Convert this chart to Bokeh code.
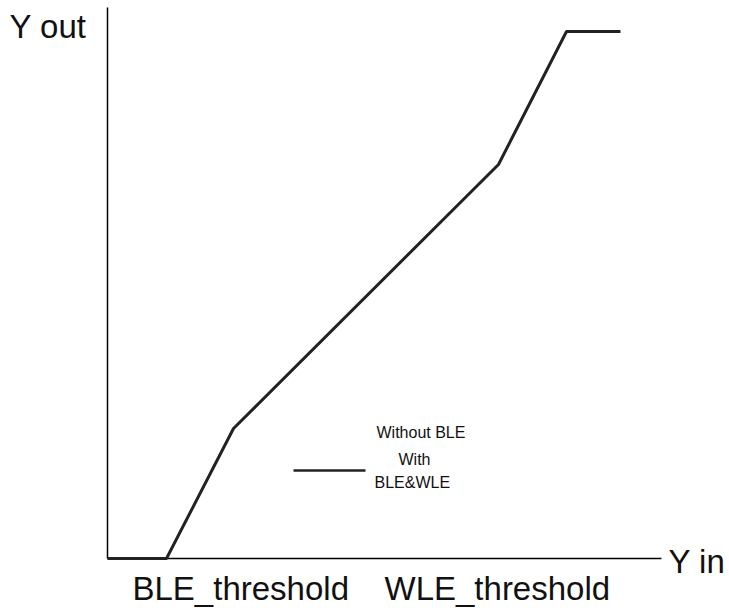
from bokeh.plotting import figure
from bokeh.models import Range1d, Label
from bokeh.embed import file_html
from bokeh.resources import INLINE

# Transfer curve (Y in -> Y out), arbitrary units
y_in = [0, 59, 126, 391, 459, 513]
y_out = [0, 0, 130, 394, 527, 527]

# axis extents (same units)
x_axis_end = 554
y_axis_end = 551

threshold_labels = ["BLE_threshold", "WLE_threshold"]
threshold_label_x = [25, 277]

legend_lines = ["Without BLE", "With", "BLE&WLE"]
legend_text_x = [269, 291, 267]
legend_text_y = [120, 93, 70]
legend_sample_x = [186, 258]
legend_sample_y = [88, 88]

FONT = "Liberation Sans"
TXT = "#111111"
BIG = 33
SMALL = 16
# Bokeh's SVG alphabetic baseline sits ~0.37em low; compensate
BIG_SHIFT = 0.37 * BIG
SMALL_SHIFT = 0.37 * SMALL

p = figure(width=729, height=608, output_backend="svg", toolbar_location=None,
           x_range=Range1d(-107, 622), y_range=Range1d(-50, 558),
           min_border_left=0, min_border_right=0, min_border_top=0, min_border_bottom=0)
p.outline_line_color = None
p.grid.visible = False
p.xaxis.visible = False
p.yaxis.visible = False
p.background_fill_color = "white"
p.border_fill_color = "white"

# axes drawn as lines from the origin
p.line([0, x_axis_end], [0, 0], line_color="black", line_width=1.5)
p.line([0, 0], [0, y_axis_end], line_color="black", line_width=1.5)

p.line(y_in, y_out, line_color="#222222", line_width=3)
p.line(legend_sample_x, legend_sample_y, line_color="#222222", line_width=2.5)

def lab(x, y, t, size, shift):
    p.add_layout(Label(x=x, y=y + shift, text=t, text_font=FONT, text_font_size=f"{size}px",
                       text_color=TXT, text_baseline="alphabetic"))

lab(-98, 520, "Y out", BIG, BIG_SHIFT)
lab(561, -15, "Y in", BIG, BIG_SHIFT)
for t, x in zip(threshold_labels, threshold_label_x):
    lab(x, -42, t, BIG, BIG_SHIFT)
for t, x, y in zip(legend_lines, legend_text_x, legend_text_y):
    lab(x, y, t, SMALL, SMALL_SHIFT)

open("out.html", "w").write(file_html(p, INLINE))
